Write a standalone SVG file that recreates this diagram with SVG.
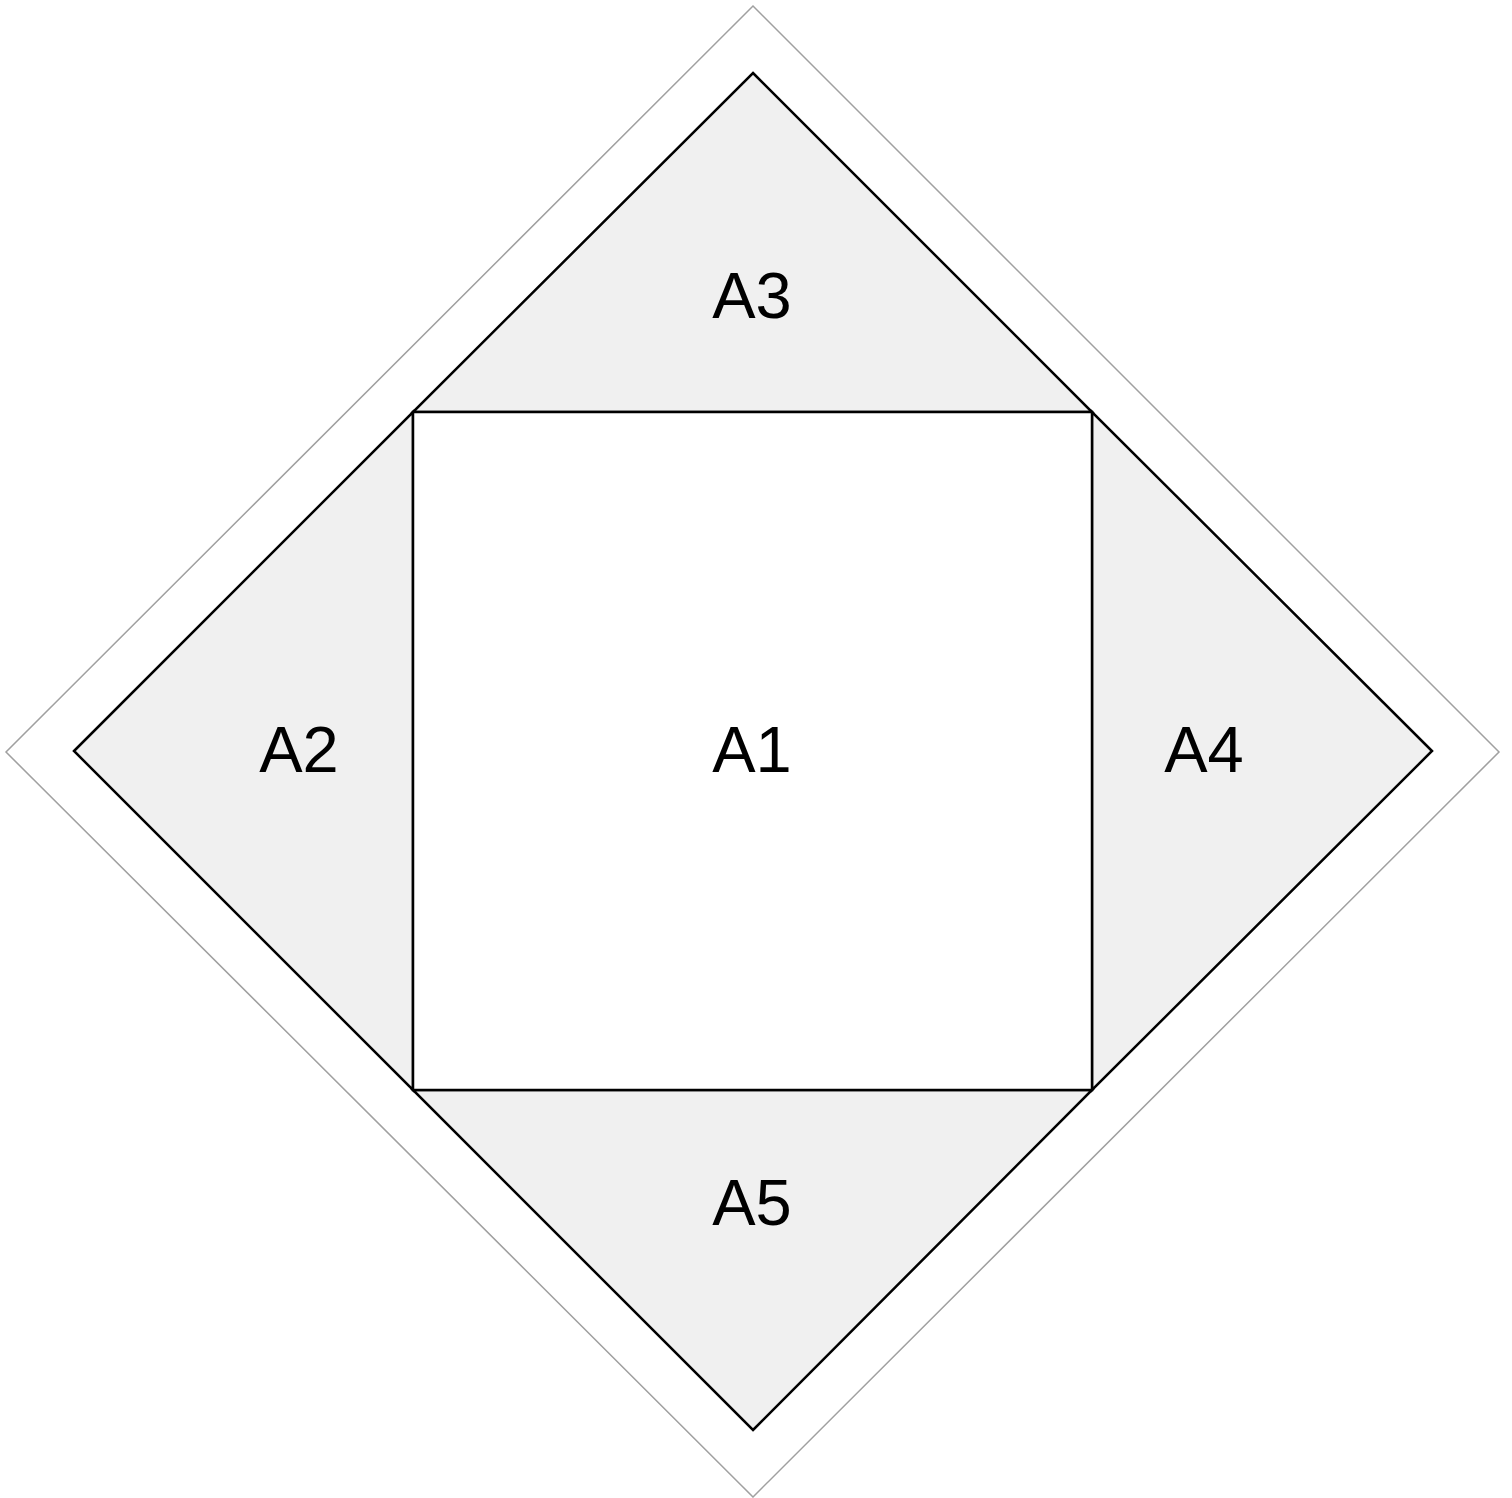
<svg xmlns="http://www.w3.org/2000/svg" width="1512" height="1498" viewBox="0 0 1512 1498">
<style>
.tri{fill:#f0f0f0;stroke:#000;stroke-width:2.5;stroke-linejoin:miter}
.sq{fill:#fff;stroke:#000;stroke-width:2.5}
.lbl{font-family:"Liberation Sans",Arial,sans-serif;font-size:65px;fill:#000;text-anchor:middle}
</style>
<rect width="1512" height="1498" fill="#fff"/>
<g id="outer">
<polygon points="753,6 1499,752 753,1497 6,752" fill="#fff" stroke="#a0a0a0" stroke-width="1.5"/>
</g>
<g id="A3">
<polygon class="tri" points="753,73 1092,412 413,412"/>
<text class="lbl" x="752" y="318">A3</text>
</g>
<g id="A2">
<polygon class="tri" points="74,751 413,412 413,1090"/>
<text class="lbl" x="299" y="772">A2</text>
</g>
<g id="A4">
<polygon class="tri" points="1432,751 1092,412 1092,1090"/>
<text class="lbl" x="1204" y="772">A4</text>
</g>
<g id="A5">
<polygon class="tri" points="753,1430 1092,1090 413,1090"/>
<text class="lbl" x="752" y="1225">A5</text>
</g>
<g id="A1">
<rect class="sq" x="413" y="412" width="679" height="678"/>
<text class="lbl" x="752" y="772">A1</text>
</g>
</svg>
